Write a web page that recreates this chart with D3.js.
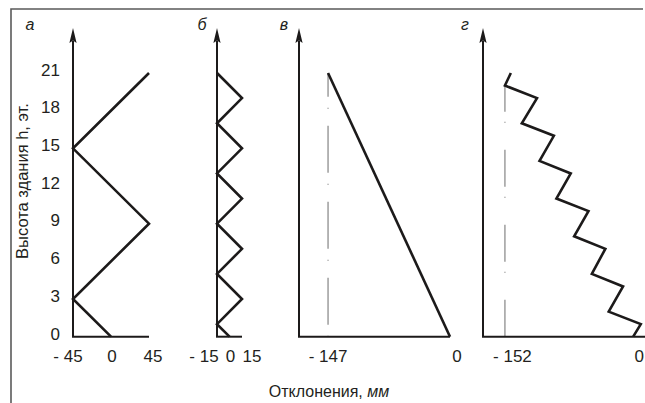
<!DOCTYPE html>
<html>
<head>
<meta charset="utf-8">
<script src="https://cdn.jsdelivr.net/npm/d3@7"></script>
<style>
  html, body { margin: 0; padding: 0; background: #fff; }
  svg { display: block; }
  text { font-family: "Liberation Sans", Arial, sans-serif; fill: #231f20; }
</style>
</head>
<body>
<svg id="chart" width="645" height="403"></svg>
<script>
// Storey marks on the vertical axis
const floorTicks = [0, 3, 6, 9, 12, 15, 18, 21];

// а — deflection profile
const aFloors = [0, 3, 9, 15, 21];
const aValues = [0, -45, 45, -45, 45];
const aTicks = [-45, 0, 45];

// б — deflection profile
const bFloors = [0, 1, 3, 5, 7, 9, 11, 13, 15, 17, 19, 21];
const bValues = [0, -15, 15, -15, 15, -15, 15, -15, 15, -15, 15, -15];
const bTicks = [-15, 0, 15];

// в — deflection profile
const vFloors = [0, 21];
const vValues = [0, -147];
const vTicks = [-147, 0];
const vLimit = -147;

// г — deflection profile
const gFloors = [0, 1, 2, 4, 5, 7, 8, 10, 11, 13, 14, 16, 17, 19, 20, 21];
const gValues = [0, 9, -29, -12, -49, -33, -70, -53, -91, -74, -111, -94, -132, -114, -152, -145];
const gTicks = [-152, 0];
const gLimit = -152;
const gLimitTop = 20;

const svg = d3.select("#chart");
const ink = "#1c1a1a";

// frame (top and left edges)
svg.append("path")
  .attr("d", "M11,403 V9 H643")
  .attr("fill", "none").attr("stroke", "#5a5a5a").attr("stroke-width", 1.6);

const y = d3.scaleLinear().domain([0, 21]).range([336.7, 73]);
const arrowTip = 28, arrowBase = 43;

// storey tick labels
svg.append("g").selectAll("text").data(floorTicks).join("text")
  .attr("x", 60).attr("y", d => y(d) + 2.8)
  .attr("text-anchor", "end").attr("font-size", 17)
  .text(d => d);

// vertical axis title
svg.append("text")
  .attr("transform", "translate(28,181) rotate(-90)")
  .attr("text-anchor", "middle").attr("font-size", 16.5)
  .text("Высота здания h, эт.");

// horizontal axis title
const xt = svg.append("text").attr("x", 329).attr("y", 397)
  .attr("text-anchor", "middle").attr("font-size", 16);
xt.append("tspan").text("Отклонения, ");
xt.append("tspan").attr("font-style", "italic").text("мм");

const fmt = v => v < 0 ? "- " + Math.abs(v) : String(v);

const panels = [
  { letter: "а", letterX: 30, domain: [-45, 45], range: [73, 149],
    floors: aFloors, values: aValues, ticks: aTicks, nudge: [-5, 1, 4] },
  { letter: "б", letterX: 202, domain: [-15, 15], range: [217, 242],
    floors: bFloors, values: bValues, ticks: bTicks, nudge: [-13, 1, 10] },
  { letter: "в", letterX: 284, domain: [-182, 0], range: [299, 450],
    floors: vFloors, values: vValues, ticks: vTicks, nudge: [0, 7],
    limit: vLimit, limitTop: 21, dash: "47 17 1 11", dashOffset: 64 },
  { letter: "г", letterX: 465, domain: [-178, 14], range: [483, 645],
    floors: gFloors, values: gValues, ticks: gTicks, nudge: [7.5, 6],
    limit: gLimit, limitTop: gLimitTop, dash: "37 27 1 10", dashOffset: 0 }
];

panels.forEach(p => {
  const x = d3.scaleLinear().domain(p.domain).range(p.range);
  const g = svg.append("g");
  const x0 = x(p.domain[0]);

  // panel letter
  g.append("text").attr("x", p.letterX).attr("y", 30)
    .attr("text-anchor", "middle").attr("font-size", 16)
    .attr("font-style", "italic").text(p.letter);

  // limit line (dash-dot), drawn bottom-up
  if (p.limit !== undefined) {
    g.append("line")
      .attr("x1", x(p.limit)).attr("x2", x(p.limit))
      .attr("y1", y(0)).attr("y2", y(p.limitTop))
      .attr("stroke", "#7a7a7a").attr("stroke-width", 1.1)
      .attr("stroke-dasharray", p.dash).attr("stroke-dashoffset", p.dashOffset);
  }

  // vertical axis with arrow
  g.append("line")
    .attr("x1", x0).attr("x2", x0)
    .attr("y1", y(0)).attr("y2", arrowBase - 2)
    .attr("stroke", ink).attr("stroke-width", 2);
  g.append("path")
    .attr("d", `M${x0},${arrowTip} L${x0 + 3.6},${arrowBase} L${x0},${arrowBase - 2.5} L${x0 - 3.6},${arrowBase} Z`)
    .attr("fill", ink);

  // base line
  g.append("line")
    .attr("x1", x0 - 1).attr("x2", x(p.domain[1]))
    .attr("y1", y(0)).attr("y2", y(0))
    .attr("stroke", ink).attr("stroke-width", 2);

  // deflection profile
  const pts = p.floors.map((f, i) => [p.values[i], f]);
  g.append("path")
    .datum(pts)
    .attr("d", d3.line().x(d => x(d[0])).y(d => y(d[1])))
    .attr("fill", "none").attr("stroke", ink)
    .attr("stroke-width", 2.6).attr("stroke-linejoin", "miter");

  // value labels under the base line
  g.selectAll("text.tick").data(p.ticks).join("text")
    .attr("class", "tick")
    .attr("x", (d, i) => x(d) + p.nudge[i]).attr("y", 362)
    .attr("text-anchor", "middle").attr("font-size", 17)
    .text(fmt);
});
</script>
</body>
</html>
